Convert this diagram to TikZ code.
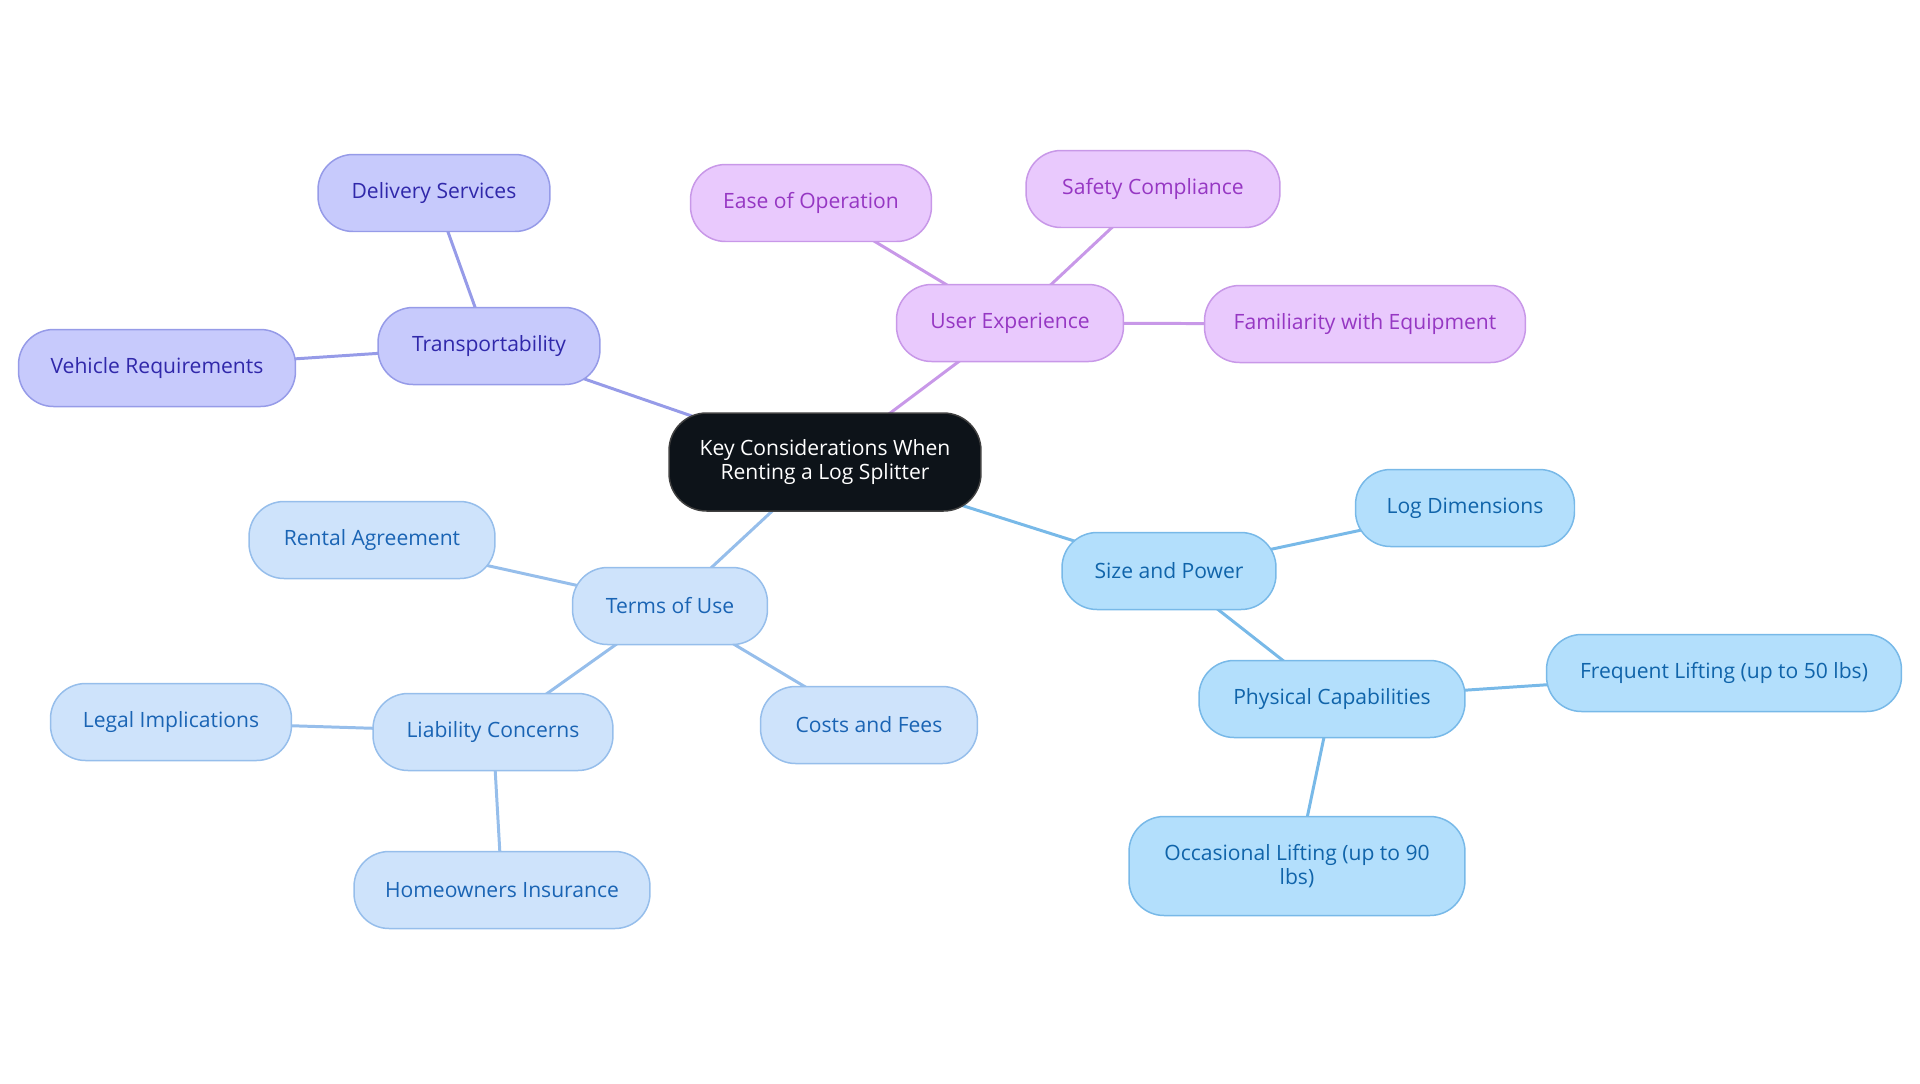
\documentclass[tikz,border=0pt]{standalone}
\usepackage{fontspec}
\setmainfont{Open Sans}
\usetikzlibrary{backgrounds}
\definecolor{splitterdark}{RGB}{13,19,25}
\definecolor{transfill}{RGB}{199,202,252}
\definecolor{transdraw}{RGB}{150,155,232}
\definecolor{transtext}{RGB}{48,40,170}
\definecolor{uxfill}{RGB}{233,201,253}
\definecolor{uxdraw}{RGB}{200,152,232}
\definecolor{uxtext}{RGB}{150,55,195}
\definecolor{sizefill}{RGB}{179,223,252}
\definecolor{sizedraw}{RGB}{120,185,232}
\definecolor{sizetext}{RGB}{16,100,170}
\definecolor{termsfill}{RGB}{206,227,251}
\definecolor{termsdraw}{RGB}{150,190,235}
\definecolor{termstext}{RGB}{26,100,180}
\begin{document}
\begin{tikzpicture}[x=.02cm,y=-.02cm,line cap=round,line join=round,
 mapnode/.style={rounded corners=.7cm,minimum height=1.54cm,inner xsep=4pt,
  align=center,font=\fontsize{12}{13.3}\selectfont,line width=.85pt},
 rootnode/.style={mapnode,fill=splitterdark,draw=black!75,text=white,
  minimum height=1.96cm,rounded corners=.75cm},
 transnode/.style={mapnode,fill=transfill,draw=transdraw,text=transtext},
 uxnode/.style={mapnode,fill=uxfill,draw=uxdraw,text=uxtext},
 sizenode/.style={mapnode,fill=sizefill,draw=sizedraw,text=sizetext},
 termsnode/.style={mapnode,fill=termsfill,draw=termsdraw,text=termstext},
 link/.style={line width=1.7pt}]
\useasboundingbox (0,0) rectangle (1920,1083);
% srodek mapy
\node[rootnode,minimum width=6.24cm] (root) at (825,462)
 {Key Considerations When\\Renting a Log Splitter};
% Transportability
\node[transnode,minimum width=4.44cm] (trans) at (489,346) {Transportability};
\node[transnode,minimum width=4.64cm] (deliv) at (434,193) {Delivery Services};
\node[transnode,minimum width=5.54cm] (vehic) at (157,368) {Vehicle Requirements};
% User Experience
\node[uxnode,minimum width=4.54cm] (userx) at (1010,323) {User Experience};
\node[uxnode,minimum width=4.82cm] (ease) at (811,203) {Ease of Operation};
\node[uxnode,minimum width=5.08cm] (safety) at (1153,189) {Safety Compliance};
\node[uxnode,minimum width=6.42cm] (famil) at (1365,324) {Familiarity with Equipment};
% Size and Power
\node[sizenode,minimum width=4.28cm] (size) at (1169,571) {Size and Power};
\node[sizenode,minimum width=4.38cm] (logdim) at (1465,508) {Log Dimensions};
\node[sizenode,minimum width=5.32cm] (phys) at (1332,699) {Physical Capabilities};
\node[sizenode,minimum width=7.10cm] (freq) at (1724,673) {Frequent Lifting (up to 50 lbs)};
\node[sizenode,minimum width=6.72cm,minimum height=1.98cm] (occas) at (1297,866)
 {Occasional Lifting (up to 90\\lbs)};
% Terms of Use
\node[termsnode,minimum width=3.90cm] (terms) at (670,606) {Terms of Use};
\node[termsnode,minimum width=4.92cm] (rental) at (372,540) {Rental Agreement};
\node[termsnode,minimum width=4.34cm] (costs) at (869,725) {Costs and Fees};
\node[termsnode,minimum width=4.80cm] (liab) at (493,732) {Liability Concerns};
\node[termsnode,minimum width=4.82cm] (legal) at (171,722) {Legal Implications};
\node[termsnode,minimum width=5.92cm] (homeo) at (502,890) {Homeowners Insurance};
\begin{scope}[on background layer]
\foreach \a/\b/\c in {root/trans/transdraw,trans/deliv/transdraw,trans/vehic/transdraw,
 root/userx/uxdraw,userx/ease/uxdraw,userx/safety/uxdraw,userx/famil/uxdraw,
 root/size/sizedraw,size/logdim/sizedraw,size/phys/sizedraw,phys/freq/sizedraw,phys/occas/sizedraw,
 root/terms/termsdraw,terms/rental/termsdraw,terms/costs/termsdraw,terms/liab/termsdraw,
 liab/legal/termsdraw,liab/homeo/termsdraw}
 \draw[link,\c] (\a.center)--(\b.center);
\end{scope}
\end{tikzpicture}
\end{document}
